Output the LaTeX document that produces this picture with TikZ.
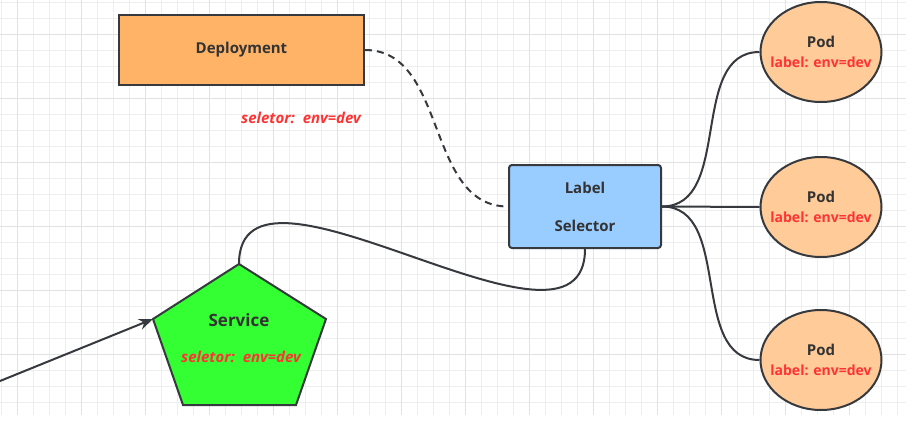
\documentclass[tikz,border=0pt]{standalone}
\usepackage{fontspec}
\setmainfont{Open Sans}
\usetikzlibrary{arrows.meta,shapes.geometric}
\definecolor{linegray}{HTML}{36393D}
\definecolor{txtgray}{HTML}{333333}
\definecolor{deporange}{HTML}{FFB366}
\definecolor{selblue}{HTML}{99CCFF}
\definecolor{podorange}{HTML}{FFCC99}
\definecolor{svcgreen}{HTML}{33FF33}
\definecolor{lblred}{HTML}{FF3333}
\definecolor{gridminor}{HTML}{EEEEEE}
\definecolor{gridmajor}{HTML}{E2E2E2}
\tikzset{
  box/.style={draw=linegray, line width=2pt, text=txtgray,
    font=\bfseries\fontsize{15}{17}\selectfont},
  pod/.style={box, ellipse, fill=podorange, minimum width=121pt,
    minimum height=100pt, inner sep=0pt,
    label={[podtext]center:Pod\\[3pt]\podlabel}},
  podtext/.style={text=txtgray, align=center, font=\bfseries\fontsize{15}{17}\selectfont},
  link/.style={draw=linegray, line width=2pt},
  redtxt/.style={text=lblred, font=\bfseries\itshape\fontsize{15}{17}\selectfont}
}
\newcommand{\podlabel}{\textcolor{lblred}{\fontsize{14}{16}\selectfont label: env=dev}}
\begin{document}
\begin{tikzpicture}[x=1pt,y=-1pt]
  \useasboundingbox (0,0) rectangle (906,439);
  \fill[white] (0,0) rectangle (906,439);

  % grid
  \foreach \x in {1,17,...,905}
    \draw[gridminor, line width=1pt] (\x,0) -- (\x,415);
  \foreach \y in {2,18,...,402}
    \draw[gridminor, line width=1pt] (0,\y) -- (906,\y);
  \foreach \x in {17,81,...,849}
    \draw[gridmajor, line width=1pt] (\x,0) -- (\x,415);
  \foreach \y in {34,98,...,354}
    \draw[gridmajor, line width=1pt] (0,\y) -- (906,\y);

  \node[box, fill=deporange, minimum width=245pt, minimum height=70pt] (dep) at (241.5,50) {Deployment};
  \node[redtxt] (depsel) at (301,118) {seletor:\ \ env=dev};

  \node[box, fill=selblue, rounded corners=3pt, minimum width=152pt, minimum height=83pt, align=center] (sel) at (585,206.5) {Label\\[21pt]Selector};

  \node[pod] (pod1) at (821,52) {};
  \node[pod] (pod2) at (821,207) {};
  \node[pod] (pod3) at (821,360) {};

  % service pentagon
  \coordinate (svcT) at (239,264);
  \coordinate (svcR) at (326,319);
  \coordinate (svcBR) at (296,405);
  \coordinate (svcBL) at (183,405);
  \coordinate (svcL) at (153,319);
  \draw[link, fill=svcgreen, line join=miter] (svcT) -- (svcR) -- (svcBR) -- (svcBL) -- (svcL) -- cycle;
  \node[box, draw=none, font=\bfseries\fontsize{17}{19}\selectfont] (svc) at (239,320) {Service};
  \node[redtxt] (svcsel) at (241,357) {seletor:\ \ env=dev};

  \draw[link, dash pattern=on 7pt off 5pt] (dep.east) to[out=0,in=180] (sel.west);
  \draw[link] (svcT) to[out=90,in=270] (sel.south);
  \draw[link] (sel.east) to[out=0,in=180] (pod1.west);
  \draw[link] (sel.east) -- (pod2.west);
  \draw[link] (sel.east) to[out=0,in=180] (pod3.west);

  \coordinate (src) at (0,381);
  \draw[link, -{Stealth[length=14pt,width=11pt]}] (src) -- (svcL);
\end{tikzpicture}
\end{document}
